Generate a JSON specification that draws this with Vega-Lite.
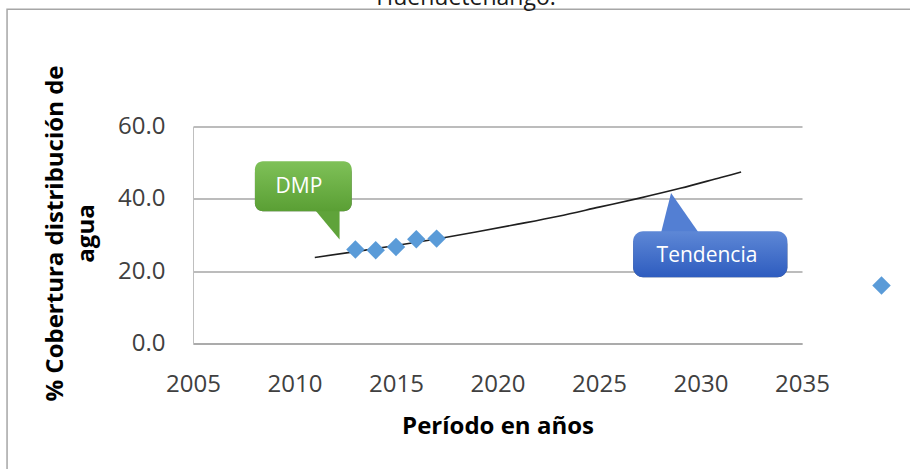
{
  "$schema": "https://vega.github.io/schema/vega-lite/v6.json",
  "width": 609,
  "height": 217,
  "autosize": {"type": "none"},
  "padding": {"left": 193, "top": 126.5, "right": 108, "bottom": 125.5},
  "background": "white",
  "config": {
    "font": "Open Sans",
    "view": {"stroke": null}
  },
  "datasets": {
    "points": [
      {"year": 2013, "pct": 26.0, "serie": "DMP"},
      {"year": 2014, "pct": 25.8, "serie": "DMP"},
      {"year": 2015, "pct": 26.7, "serie": "DMP"},
      {"year": 2016, "pct": 28.8, "serie": "DMP"},
      {"year": 2017, "pct": 29.0, "serie": "DMP"}
    ],
    "trend": [
      {"year": 2011, "pct": 23.8},
      {"year": 2013, "pct": 25.4},
      {"year": 2015, "pct": 27.1},
      {"year": 2017, "pct": 28.9},
      {"year": 2019, "pct": 30.9},
      {"year": 2021, "pct": 33.0},
      {"year": 2023, "pct": 35.2},
      {"year": 2025, "pct": 37.7},
      {"year": 2027, "pct": 40.2},
      {"year": 2029, "pct": 42.9},
      {"year": 2031, "pct": 45.9},
      {"year": 2032, "pct": 47.4}
    ],
    "boxes": [
      {"name": "DMP", "x1": 2008.05, "x2": 2012.82, "y1": 50.4, "y2": 36.6},
      {"name": "Tendencia", "x1": 2026.68, "x2": 2034.28, "y1": 31.05, "y2": 18.33}
    ],
    "tails": [
      {"name": "DMP", "x": 2010.93, "y": 37.5, "y2": 37.5},
      {"name": "DMP", "x": 2012.22, "y": 37.5, "y2": 28.75},
      {"name": "Tendencia", "x": 2028.05, "y": 30.5, "y2": 30.5},
      {"name": "Tendencia", "x": 2028.55, "y": 41.64, "y2": 30.5},
      {"name": "Tendencia", "x": 2029.93, "y": 30.5, "y2": 30.5}
    ],
    "labels": [
      {"name": "DMP", "x": 2010.22, "y": 43.35},
      {"name": "Tendencia", "x": 2030.32, "y": 24.14}
    ],
    "heading": [
      {"text": "Huehuetenango.", "x": 2018.45, "y": 93.6}
    ],
    "frame": [
      {"x1": 1995.84, "x2": 2041, "y1": 92.4, "y2": -37.8}
    ]
  },
  "layer": [
    {
      "data": {"name": "frame"},
      "mark": {"type": "rect", "fill": null, "stroke": "#a6a6a6", "strokeWidth": 1.5},
      "encoding": {
        "x": {"field": "x1", "type": "quantitative", "scale": {"domain": [2005, 2035], "nice": false, "zero": false},
          "axis": {
            "values": [2005, 2010, 2015, 2020, 2025, 2030, 2035],
            "format": "d",
            "grid": false,
            "ticks": false,
            "tickSize": 0,
            "domain": true,
            "domainColor": "#a6a6a6",
            "domainWidth": 1.5,
            "labelFont": "Open Sans",
            "labelFontSize": 24,
            "labelColor": "#404040",
            "labelBaseline": "alphabetic",
            "labelPadding": 47.5,
            "labelFlush": false,
            "labelOverlap": false,
            "title": "Período en años",
            "titleFont": "Open Sans",
            "titleFontSize": 24,
            "titleFontWeight": "bold",
            "titleColor": "#000000",
            "titleBaseline": "alphabetic",
            "titleY": 89.7
          }
        },
        "x2": {"field": "x2"},
        "y": {"field": "y1", "type": "quantitative", "scale": {"domain": [0, 60], "nice": false, "zero": false},
          "axis": {
            "values": [0, 20, 40, 60],
            "format": ".1f",
            "grid": true,
            "gridColor": "#a6a6a6",
            "gridWidth": 1.5,
            "ticks": false,
            "tickSize": 0,
            "domain": true,
            "domainColor": "#bfbfbf",
            "domainWidth": 1,
            "labelFont": "Open Sans",
            "labelFontSize": 24,
            "labelColor": "#404040",
            "labelPadding": 28,
            "labelBaseline": "middle",
            "title": ["% Cobertura distribución de", "agua"],
            "titleFont": "Open Sans",
            "titleFontSize": 24,
            "titleFontWeight": "bold",
            "titleColor": "#000000",
            "titleAngle": -90,
            "titleAlign": "center",
            "titleBaseline": "alphabetic",
            "titleLineHeight": 31,
            "titleX": -131,
            "titleY": 106.5
          }
        },
        "y2": {"field": "y2"}
      }
    },
    {
      "data": {"name": "heading"},
      "mark": {"type": "text", "fontSize": 23, "font": "Open Sans", "color": "#1a1a1a", "align": "center", "baseline": "alphabetic"},
      "encoding": {
        "x": {"field": "x", "type": "quantitative"},
        "y": {"field": "y", "type": "quantitative"},
        "text": {"field": "text"}
      }
    },
    {
      "data": {"name": "trend"},
      "mark": {"type": "line", "color": "#1f1f1f", "strokeWidth": 1.6, "interpolate": "monotone"},
      "encoding": {
        "x": {"field": "year", "type": "quantitative"},
        "y": {"field": "pct", "type": "quantitative"}
      }
    },
    {
      "data": {"name": "points"},
      "mark": {"type": "point", "shape": "diamond", "filled": true, "size": 340, "opacity": 1},
      "encoding": {
        "x": {"field": "year", "type": "quantitative"},
        "y": {"field": "pct", "type": "quantitative"},
        "color": {
          "field": "serie",
          "type": "nominal",
          "scale": {"range": ["#5a9bd8"]},
          "legend": {
            "orient": "none",
            "legendX": 679,
            "legendY": 149.5,
            "title": null,
            "padding": 0,
            "symbolType": "diamond",
            "symbolSize": 340,
            "symbolStrokeWidth": 0,
            "symbolOpacity": 1,
            "labelExpr": "''",
            "labelFontSize": 1
          }
        }
      }
    },
    {
      "data": {"name": "boxes"},
      "transform": [{"filter": "datum.name === 'DMP'"}],
      "mark": {"type": "rect", "cornerRadius": 8, "fill": "#595959", "yOffset": 3.5, "opacity": 0.9},
      "encoding": {
        "x": {"field": "x1", "type": "quantitative"},
        "x2": {"field": "x2"},
        "y": {"field": "y1", "type": "quantitative"},
        "y2": {"field": "y2"}
      }
    },
    {
      "data": {"name": "tails"},
      "transform": [{"filter": "datum.name === 'DMP'"}],
      "mark": {"type": "area", "color": "#5fa33a", "opacity": 1},
      "encoding": {
        "x": {"field": "x", "type": "quantitative"},
        "y": {"field": "y", "type": "quantitative"},
        "y2": {"field": "y2"}
      }
    },
    {
      "data": {"name": "boxes"},
      "transform": [{"filter": "datum.name === 'DMP'"}],
      "mark": {"type": "rect", "cornerRadius": 8,
        "fill": {"gradient": "linear", "x1": 0, "y1": 0, "x2": 0, "y2": 1,
          "stops": [{"offset": 0, "color": "#7fc158"}, {"offset": 1, "color": "#5a9f34"}]}},
      "encoding": {
        "x": {"field": "x1", "type": "quantitative"},
        "x2": {"field": "x2"},
        "y": {"field": "y1", "type": "quantitative"},
        "y2": {"field": "y2"}
      }
    },
    {
      "data": {"name": "boxes"},
      "transform": [{"filter": "datum.name === 'Tendencia'"}],
      "mark": {"type": "rect", "cornerRadius": 10, "fill": "#595959", "yOffset": 3.5, "opacity": 0.9},
      "encoding": {
        "x": {"field": "x1", "type": "quantitative"},
        "x2": {"field": "x2"},
        "y": {"field": "y1", "type": "quantitative"},
        "y2": {"field": "y2"}
      }
    },
    {
      "data": {"name": "tails"},
      "transform": [{"filter": "datum.name === 'Tendencia'"}],
      "mark": {"type": "area", "color": "#537fd3", "opacity": 1},
      "encoding": {
        "x": {"field": "x", "type": "quantitative"},
        "y": {"field": "y", "type": "quantitative"},
        "y2": {"field": "y2"}
      }
    },
    {
      "data": {"name": "boxes"},
      "transform": [{"filter": "datum.name === 'Tendencia'"}],
      "mark": {"type": "rect", "cornerRadius": 10,
        "fill": {"gradient": "linear", "x1": 0, "y1": 0, "x2": 0, "y2": 1,
          "stops": [{"offset": 0, "color": "#5e88d6"}, {"offset": 1, "color": "#2e5cbf"}]}},
      "encoding": {
        "x": {"field": "x1", "type": "quantitative"},
        "x2": {"field": "x2"},
        "y": {"field": "y1", "type": "quantitative"},
        "y2": {"field": "y2"}
      }
    },
    {
      "data": {"name": "labels"},
      "mark": {"type": "text", "color": "white", "fontSize": 21, "font": "Open Sans", "align": "center", "baseline": "middle"},
      "encoding": {
        "x": {"field": "x", "type": "quantitative"},
        "y": {"field": "y", "type": "quantitative"},
        "text": {"field": "name"}
      }
    }
  ]
}
